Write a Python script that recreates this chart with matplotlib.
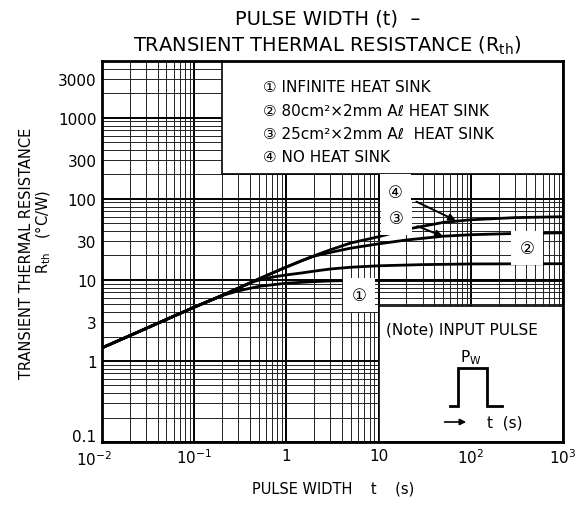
import numpy as np
import matplotlib
matplotlib.use('Agg')
from matplotlib import pyplot as plt
from matplotlib.patches import Rectangle
from matplotlib.transforms import ScaledTranslation

plt.rcParams['font.family'] = ['DejaVu Sans', 'Noto Sans CJK JP']
plt.rcParams['mathtext.default'] = 'regular'

# curves: pulse width t (s) vs Rth (degC/W)
t_inf = [0.01, 0.02, 0.05, 0.1, 0.2, 0.3, 0.5, 1, 2, 3, 5, 10, 100, 1000]
r_inf = [1.45, 2.05, 3.25, 4.6, 6.4, 7.3, 8.3, 9.1, 9.5, 9.7, 9.8, 9.8, 9.8, 9.8]

t_80 = [0.01, 0.02, 0.05, 0.1, 0.2, 0.3, 0.45, 0.7, 1, 1.5, 2, 3, 5, 10, 30, 100, 1000]
r_80 = [1.45, 2.05, 3.25, 4.6, 6.4, 7.9, 9.6, 10.8, 11.5, 12.2, 12.8, 13.6, 14.3, 14.9, 15.4, 15.7, 15.8]

t_25 = [0.01, 0.02, 0.05, 0.1, 0.2, 0.3, 0.45, 0.7, 1, 1.5, 2, 3, 5, 10, 20, 50, 100, 300, 1000]
r_25 = [1.45, 2.05, 3.25, 4.6, 6.4, 7.9, 9.7, 12.1, 14.4, 17.4, 19.6, 21.8, 24.6, 27.8, 31, 34.5, 36, 37.3, 38]

t_none = [0.01, 0.02, 0.05, 0.1, 0.2, 0.3, 0.45, 0.7, 1, 1.5, 2, 3, 5, 10, 20, 50, 100, 300, 1000]
r_none = [1.45, 2.05, 3.25, 4.6, 6.4, 7.9, 9.7, 12.1, 14.4, 17.4, 19.8, 23.5, 28.5, 34, 42, 51, 55, 58.5, 60]

curve_names = ['\u2460 INFINITE HEAT SINK',
               '\u2461 80cm\u00b2\u00d72mm A\u2113 HEAT SINK',
               '\u2462 25cm\u00b2\u00d72mm A\u2113  HEAT SINK',
               '\u2463 NO HEAT SINK']

x_major = [1e-2, 1e-1, 1, 10, 1e2, 1e3]
x_major_labels = ['$10^{-2}$', '$10^{-1}$', '1', '10', '$10^{2}$', '$10^{3}$']
y_labelled = [0.1, 0.3, 1, 3, 10, 30, 100, 300, 1000, 3000]

fig = plt.figure(figsize=(5.85, 5.06), dpi=100)
ax = fig.add_axes([0.1744, 0.1245, 0.788, 0.753])
ax.set_xscale('log')
ax.set_yscale('log')

# log paper grid
decades_y = [0.1, 1, 10, 100, 1000]
y_minor = [d * s for d in decades_y for s in range(2, 10) if d * s <= 5000]
ax.set_yticks(decades_y)
ax.set_yticks(y_minor, minor=True)
ax.set_yticklabels([('%g' % v) for v in decades_y])
ax.set_yticklabels([('%g' % v) if v in y_labelled else '' for v in y_minor], minor=True)
ax.set_xticks(x_major)
ax.set_xticklabels(x_major_labels)
x_minor = [d * s for d in x_major[:-1] for s in range(2, 10)]
ax.set_xticks(x_minor, minor=True)
ax.set_xticklabels([''] * len(x_minor), minor=True)
ax.set_xlim(1e-2, 1e3)
ax.set_ylim(0.1, 5000)
ax.tick_params(which='both', length=0, labelsize=11, pad=4)
ax.grid(which='major', color='black', lw=1.4)
ax.grid(which='minor', color='#222222', lw=0.7)
ax.set_axisbelow(True)
for sp in ax.spines.values():
    sp.set_linewidth(2)

# nudge corner labels apart like the original
ax.get_yticklabels()[0].set_transform(ax.get_yticklabels()[0].get_transform()
                                      + ScaledTranslation(0, 5 / 72, fig.dpi_scale_trans))
ax.get_xticklabels()[0].set_transform(ax.get_xticklabels()[0].get_transform()
                                      + ScaledTranslation(-6 / 72, -1 / 72, fig.dpi_scale_trans))

# white panels for legend and note
ax.add_patch(Rectangle((0.2, 200), 1000 - 0.2, 5000 - 200, fc='white', ec='black', lw=1.2, zorder=1.5))
ax.add_patch(Rectangle((10, 0.1), 1000 - 10, 4.8 - 0.1, fc='white', ec='black', lw=1.2, zorder=1.5))

for tt, rr in [(t_inf, r_inf), (t_80, r_80), (t_25, r_25), (t_none, r_none)]:
    ax.plot(tt, rr, color='black', lw=2, zorder=3, solid_joinstyle='round')

for i, name in enumerate(curve_names):
    ax.text(0.349, 0.932 - i * 0.061, name, transform=ax.transAxes, fontsize=11,
            va='center', ha='left', zorder=4)

box = dict(boxstyle='square,pad=0.5', fc='white', ec='none')
ax.text(6.1, 6.5, '\u2460', fontsize=12, ha='center', va='center', bbox=box, zorder=4)
ax.text(406, 24.8, '\u2461', fontsize=12, ha='center', va='center', bbox=box, zorder=4)
ax.annotate('\u2462', xy=(49.6, 34.5), xytext=(15.6, 58), fontsize=12, ha='center', va='center',
            bbox=box, zorder=4,
            arrowprops=dict(arrowstyle='-|>', color='black', lw=1.4, shrinkA=4, shrinkB=0, mutation_scale=10))
ax.annotate('\u2463', xy=(68.7, 54), xytext=(15.3, 122), fontsize=12, ha='center', va='center',
            bbox=box, zorder=4,
            arrowprops=dict(arrowstyle='-|>', color='black', lw=1.4, shrinkA=4, shrinkB=0, mutation_scale=10))

# input pulse note
ax.text(0.616, 0.297, '(Note) INPUT PULSE', transform=ax.transAxes, fontsize=11, va='center', zorder=4)
ax.plot([0.755, 0.772, 0.772, 0.835, 0.835, 0.868], [0.0945, 0.0945, 0.194, 0.194, 0.0945, 0.0945],
        transform=ax.transAxes, color='black', lw=2, zorder=4, solid_joinstyle='miter')
ax.text(0.80, 0.224, 'P$_W$', transform=ax.transAxes, fontsize=11, ha='center', va='center', zorder=4)
ax.annotate('', xy=(0.796, 0.0525), xytext=(0.737, 0.0525), xycoords='axes fraction',
            arrowprops=dict(arrowstyle='-|>', color='black', lw=1.2, mutation_scale=9), zorder=4)
ax.text(0.835, 0.0525, 't  (s)', transform=ax.transAxes, fontsize=11, va='center', zorder=4)

fig.text(0.56, 0.962, 'PULSE WIDTH (t)  \u2013', fontsize=14, ha='center', va='center')
fig.text(0.56, 0.91, 'TRANSIENT THERMAL RESISTANCE (R$_{th}$)', fontsize=14, ha='center', va='center')
fig.text(0.046, 0.50, 'TRANSIENT THERMAL RESISTANCE', rotation=90, fontsize=10.5, ha='center', va='center')
fig.text(0.074, 0.541, 'R$_{th}$   (\u00b0C/W)', rotation=90, fontsize=10.5, ha='center', va='center')
fig.text(0.57, 0.034, 'PULSE WIDTH    t    (s)', fontsize=10.5, ha='center', va='center')

fig.savefig('out.png', dpi=100)
